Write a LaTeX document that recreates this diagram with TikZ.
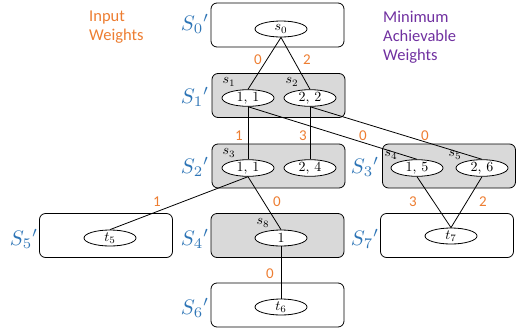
\documentclass[tikz,border=0pt]{standalone}
\usepackage{fontspec}
\setmainfont{Carlito}
\usetikzlibrary{shapes.geometric}
\definecolor{orng}{HTML}{ED7D31}
\definecolor{purp}{HTML}{7030A0}
\definecolor{blu}{HTML}{2E75B6}
\definecolor{boxgray}{HTML}{D9D9D9}
\newcommand{\mth}[1]{\scalebox{1.4}{$#1$}}
\newcommand{\setname}[1]{\scalebox{2.1}{$S_{#1}{}'$}}
\begin{document}
\begin{tikzpicture}[x=1pt,y=-1pt,
  grp/.style={draw, rounded corners=6pt, line width=0.8pt, minimum width=133pt, minimum height=44pt, inner sep=0pt},
  grpg/.style={grp, fill=boxgray},
  st/.style={draw, ellipse, fill=white, minimum width=52pt, minimum height=16pt, inner sep=0pt, line width=0.8pt},
  slab/.style={inner sep=0pt},
  setlab/.style={text=blu, inner sep=0pt},
  wlab/.style={text=orng, font=\fontsize{15}{17}\selectfont, inner sep=0pt},
  edge/.style={line width=0.8pt}
]
\useasboundingbox (0,0) rectangle (525,330);
% boxes
\node[grp]  (B0) at (277.5,25) {};
\node[grpg] (B1) at (278.5,95.5) {};
\node[grpg] (B2) at (278.5,166) {};
\node[grpg] (B3) at (449,166) {};
\node[grp]  (B5) at (106,235.5) {};
\node[grpg] (B4) at (277.5,235.5) {};
\node[grp]  (B7) at (447,235.5) {};
\node[grp]  (B6) at (277.5,305) {};
% set labels
\node[setlab] (L0) at (195,24) {\setname{0}};
\node[setlab] (L1) at (195,97) {\setname{1}};
\node[setlab] (L2) at (195,167) {\setname{2}};
\node[setlab] (L3) at (365,167) {\setname{3}};
\node[setlab] (L5) at (24,239) {\setname{5}};
\node[setlab] (L4) at (195,239) {\setname{4}};
\node[setlab] (L7) at (365,239) {\setname{7}};
\node[setlab] (L6) at (195,308) {\setname{6}};
% states
\node[st] (s0) at (281,29) {\mth{s_0}};
\node[st] (a11) at (248,98) {\mth{1,\,1}};
\node[st] (a22) at (310,98) {\mth{2,\,2}};
\node[st] (b11) at (248,168) {\mth{1,\,1}};
\node[st] (b24) at (310,168) {\mth{2,\,4}};
\node[st] (c15) at (417,168) {\mth{1,\,5}};
\node[st] (c26) at (482,168) {\mth{2,\,6}};
\node[st] (t5) at (110,238) {\mth{t_5}};
\node[st] (d1) at (281,238) {\mth{1}};
\node[st] (t7) at (451,236) {\mth{t_7}};
\node[st] (t6) at (281,307) {\mth{t_6}};
% state names
\node[slab] (n1) at (229,82) {\mth{s_1}};
\node[slab] (n2) at (292,82) {\mth{s_2}};
\node[slab] (n3) at (229,153) {\mth{s_3}};
\node[slab] (n4) at (391,155) {\mth{s_4}};
\node[slab] (n5) at (455,155) {\mth{s_5}};
\node[slab] (n8) at (263,223) {\mth{s_8}};
% edges
\draw[edge] (s0.south) -- (a11.north);
\draw[edge] (s0.south) -- (a22.north);
\draw[edge] (a11.south) -- (b11.north);
\draw[edge] (a22.south) -- (b24.north);
\draw[edge] (a11.south) -- (c15.north);
\draw[edge] (a22.south) -- (c26.north);
\draw[edge] (b11.south) -- (t5.north);
\draw[edge] (b11.south) -- (d1.north);
\draw[edge] (c15.south) -- (t7.north);
\draw[edge] (c26.south) -- (t7.north);
\draw[edge] (d1.south) -- (t6.north);
% weights
\node[wlab] (w1) at (258,60) {0};
\node[wlab] (w2) at (307,60) {2};
\node[wlab] (w3) at (239,136) {1};
\node[wlab] (w4) at (303,136) {3};
\node[wlab] (w5) at (363,136) {0};
\node[wlab] (w6) at (425,136) {0};
\node[wlab] (w7) at (157,202) {1};
\node[wlab] (w8) at (277,202) {0};
\node[wlab] (w9) at (413,202) {3};
\node[wlab] (w10) at (483,202) {2};
\node[wlab] (w11) at (270,274) {0};
% headers
\node[text=orng, font=\fontsize{16.5}{19}\selectfont, align=left, anchor=north west, inner sep=0pt] (hin) at (89,11) {Input\\Weights};
\node[text=purp, font=\fontsize{16.5}{19}\selectfont, align=left, anchor=north west, inner sep=0pt] (hmin) at (383,11) {Minimum\\Achievable\\Weights};
\end{tikzpicture}
\end{document}
